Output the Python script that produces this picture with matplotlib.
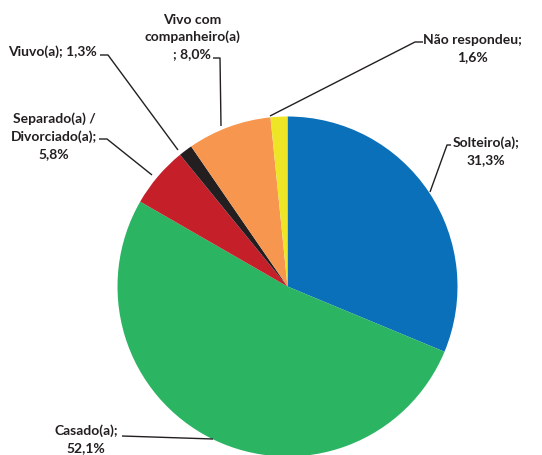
import matplotlib
matplotlib.use("Agg")
import matplotlib.pyplot as plt

categories = ["Solteiro(a)", "Casado(a)", "Separado(a) /\nDivorciado(a)", "Viuvo(a)",
              "Vivo com\ncompanheiro(a)\n", "Não respondeu"]
values = [31.3, 52.1, 5.8, 1.3, 8.0, 1.6]
value_labels = ["31,3%", "52,1%", "5,8%", "1,3%", "8,0%", "1,6%"]
colors = ["#0B70BA", "#2BB462", "#C5202A", "#231F20", "#F7964F", "#EEE526"]

W, H = 542, 456
fig = plt.figure(figsize=(W / 100, H / 100), dpi=100)
ax = fig.add_axes([0, 0, 1, 1])

def py(y):
    return H - y

cx, cy, r = 287.5, 287.5, 170
ax.pie(values, colors=colors, startangle=90, counterclock=False,
       center=(cx, py(cy)), radius=r, frame=True,
       wedgeprops=dict(linewidth=0))
ax.set_xlim(0, W)
ax.set_ylim(0, H)
ax.set_aspect("equal")
ax.axis("off")

font = dict(family=["Lato", "DejaVu Sans"], fontsize=10, fontweight="bold", color="#231F20")

# label texts: (text, x, y, ha)
texts = [
    (categories[0] + ";\n" + value_labels[0], 486, 151, "center"),
    (categories[1] + ";\n" + value_labels[1], 86, 439, "center"),
    (categories[2] + ";\n" + value_labels[2], 54, 136.5, "center"),
    (categories[3] + "; " + value_labels[3], 97, 52, "right"),
    (categories[4] + "; " + value_labels[4], 192, 37, "center"),
    (categories[5] + ";\n" + value_labels[5], 472, 48.5, "center"),
]
for t, x, y, ha in texts:
    ax.text(x, py(y), t, ha=ha, va="center", linespacing=1.5, **font)

# leader lines in pixel coords
lines = [
    [(451, 146), (447, 146), (430, 193)],
    [(122, 437), (213, 440)],
    [(99, 140), (107, 140), (152, 176)],
    [(100, 56), (108, 56), (178, 151)],
    [(213, 59), (220, 59), (221, 127)],
    [(423, 43), (415, 43), (270, 117)],
]
for pts in lines:
    xs = [p[0] for p in pts]
    ys = [py(p[1]) for p in pts]
    ax.plot(xs, ys, color="#231F20", linewidth=1.0, solid_capstyle="butt")

fig.savefig("out.png", dpi=100)
